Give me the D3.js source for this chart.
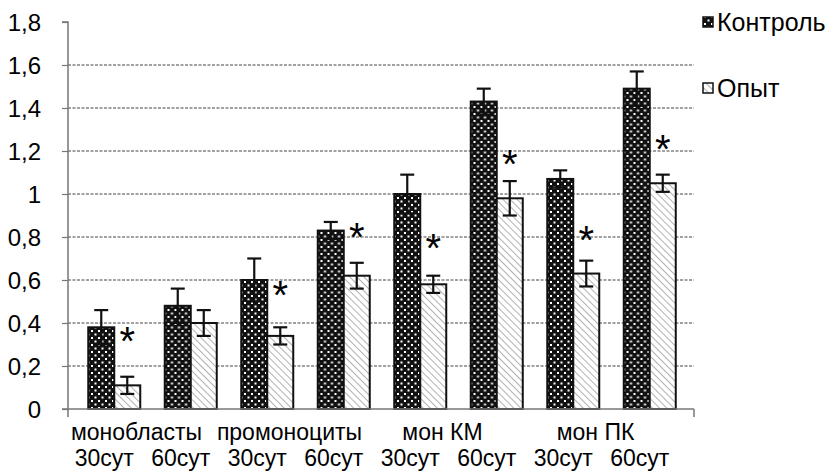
<!DOCTYPE html>
<html><head><meta charset="utf-8">
<script src="https://cdn.jsdelivr.net/npm/d3@7"></script>
<style>
html,body{margin:0;padding:0;background:#fff;}
text{font-family:"Liberation Sans",Arial,sans-serif;fill:#000;}
</style></head>
<body>
<svg id="c" width="833" height="472"></svg>
<script>
const groups = ["монобласты 30сут","монобласты 60сут","промоноциты 30сут","промоноциты 60сут","мон КМ 30сут","мон КМ 60сут","мон ПК 30сут","мон ПК 60сут"];
const subLabels = ["30сут","60сут","30сут","60сут","30сут","60сут","30сут","60сут"];
const groupLabels = ["монобласты","промоноциты","мон КМ","мон ПК"];
const seriesNames = ["Контроль","Опыт"];
const control = [0.38,0.48,0.60,0.83,1.00,1.43,1.07,1.49];
const controlErr = [0.08,0.08,0.10,0.04,0.09,0.06,0.04,0.08];
const opyt = [0.11,0.40,0.34,0.62,0.58,0.98,0.63,1.05];
const opytErr = [0.04,0.06,0.04,0.06,0.04,0.08,0.06,0.04];
const starLevel = [0.36,null,0.57,0.84,0.79,1.18,0.83,1.25];
const yTicks = [0,0.2,0.4,0.6,0.8,1,1.2,1.4,1.6,1.8];

const svg = d3.select("#c");
const defs = svg.append("defs");
const pd = defs.append("pattern").attr("id","dots").attr("patternUnits","userSpaceOnUse")
  .attr("width",7).attr("height",7);
pd.append("rect").attr("width",7).attr("height",7).attr("fill","#111");
pd.append("rect").attr("x",1).attr("y",1).attr("width",2).attr("height",2).attr("fill","#fff");
pd.append("rect").attr("x",4.5).attr("y",4.5).attr("width",2).attr("height",2).attr("fill","#fff");
const ph = defs.append("pattern").attr("id","hatch").attr("patternUnits","userSpaceOnUse")
  .attr("width",5).attr("height",5).attr("patternTransform","rotate(-45)");
ph.append("rect").attr("width",5).attr("height",5).attr("fill","#fff");
ph.append("line").attr("x1",0).attr("y1",0).attr("x2",0).attr("y2",5).attr("stroke","#a8a8a8").attr("stroke-width",1.8);

const y = d3.scaleLinear().domain([0,1.8]).range([409,22]);
const x0 = d3.scaleBand().domain(groups).range([76,688]);
const bw = 26;
const x1 = d3.scaleBand().domain(seriesNames).range([x0.bandwidth()/2-bw, x0.bandwidth()/2+bw]);
const axL = 68, axR = 694;
const FS = "24px";

// gridlines
svg.append("g").selectAll("line").data(yTicks.filter(v=>v>0 && v<1.8)).join("line")
  .attr("x1",axL).attr("x2",axR).attr("y1",d=>y(d)).attr("y2",d=>y(d))
  .attr("stroke","#444").attr("stroke-width",1).attr("stroke-dasharray","3,1.5");

// y axis
const yAxis = d3.axisLeft(y).tickValues(yTicks).tickSize(6).tickFormat(d=>d3.format("")(d).replace(".",","));
const gy = svg.append("g").attr("transform",`translate(${axL},0)`).call(yAxis);
gy.select(".domain").attr("stroke","#777").attr("stroke-width",1.5).attr("d",`M-6,${y(1.8)}H0V${y(0)+8}`);
gy.selectAll(".tick line").attr("stroke","#777").attr("stroke-width",1.2);
gy.selectAll(".tick text").attr("x",-27).attr("dy","0.36em").style("font-size",FS).style("font-family","'Liberation Sans',Arial,sans-serif").attr("fill","#000");

// bars
const data = groups.map((g,i)=>({g,i,vals:[
  {s:"Контроль",v:control[i],e:controlErr[i]},
  {s:"Опыт",v:opyt[i],e:opytErr[i]}]}));
const gg = svg.append("g").selectAll("g").data(data).join("g")
  .attr("transform",d=>`translate(${x0(d.g)},0)`);
gg.selectAll("rect").data(d=>d.vals).join("rect")
  .attr("x",d=>x1(d.s)).attr("width",x1.bandwidth())
  .attr("y",d=>y(d.v)).attr("height",d=>y(0)-y(d.v))
  .attr("fill",d=>d.s==="Контроль"?"url(#dots)":"url(#hatch)")
  .attr("stroke","#111").attr("stroke-width",2);
// error bars
const eb = gg.selectAll("g.err").data(d=>d.vals).join("g").attr("class","err")
  .attr("transform",d=>`translate(${x1(d.s)+x1.bandwidth()/2},0)`);
eb.append("line").attr("y1",d=>y(d.v+d.e)).attr("y2",d=>y(d.v-d.e)).attr("stroke","#111").attr("stroke-width",2.2);
eb.append("line").attr("x1",-7).attr("x2",7).attr("y1",d=>y(d.v+d.e)).attr("y2",d=>y(d.v+d.e)).attr("stroke","#111").attr("stroke-width",2.2);
eb.append("line").attr("x1",-7).attr("x2",7).attr("y1",d=>y(d.v-d.e)).attr("y2",d=>y(d.v-d.e)).attr("stroke","#111").attr("stroke-width",2.2);

// asterisks
svg.append("g").selectAll("text").data(groups.map((g,i)=>({g,v:starLevel[i]})).filter(d=>d.v!==null)).join("text")
  .attr("x",d=>x0(d.g)+x1("Опыт")+x1.bandwidth()/2)
  .attr("y",d=>y(d.v)+23).attr("text-anchor","middle")
  .style("font-size","40px").text("*");

// x axis
svg.append("line").attr("x1",axL-6).attr("x2",axR).attr("y1",y(0)).attr("y2",y(0)).attr("stroke","#777").attr("stroke-width",1.5);
svg.append("line").attr("x1",axR).attr("x2",axR).attr("y1",y(0)).attr("y2",y(0)+8).attr("stroke","#777").attr("stroke-width",1.5);

// x labels
const XFS = "23px";
svg.append("g").selectAll("text").data(groups).join("text")
  .attr("x",(d)=>x0(d)+x0.bandwidth()/2-10).attr("y",466).attr("text-anchor","middle")
  .style("font-size",XFS).text((d,i)=>subLabels[i]);
svg.append("g").selectAll("text").data(groupLabels).join("text")
  .attr("x",(d,i)=>x0(groups[2*i])+x0.bandwidth()-16).attr("y",440).attr("text-anchor","middle")
  .style("font-size",XFS).text(d=>d);

// legend
const leg = svg.append("g").selectAll("g").data(seriesNames).join("g")
  .attr("transform",(d,i)=>`translate(703,${22+i*66})`);
leg.append("rect").attr("x",0).attr("y",-5).attr("width",10).attr("height",10)
  .attr("fill",(d,i)=>i===0?"url(#dots)":"url(#hatch)").attr("stroke","#111").attr("stroke-width",1.5);
leg.append("text").attr("x",14).attr("dy","0.36em").style("font-size","25px").text(d=>d);
</script>
</body></html>
